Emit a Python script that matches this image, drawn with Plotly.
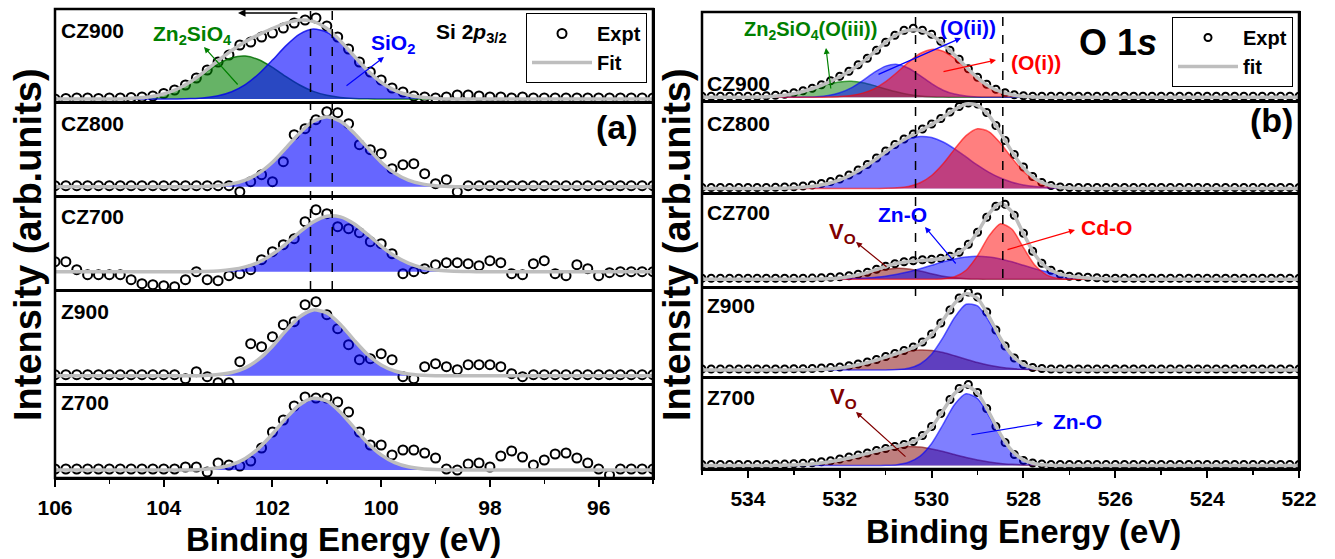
import numpy as np
import plotly.graph_objects as go

W, H = 1335, 559
FONT = "Liberation Sans, Arial, Helvetica, sans-serif"

# ---------------- energy grids (eV) ----------------
SI_E_EXPT = np.round(np.arange(106.0, 94.99, -0.2), 2)    # 56 points
SI_E_CURVE = np.round(np.arange(106.0, 94.99, -0.25), 2)  # 45 points
O_E_EXPT = np.round(np.arange(535.0, 521.99, -0.2), 2)    # 66 points
O_E_CURVE = np.round(np.arange(535.0, 521.99, -0.25), 2)  # 53 points

SAMPLES = ["CZ900", "CZ800", "CZ700", "Z900", "Z700"]

# ---------------- Si 2p (panel a) ----------------
SI_CZ900_EXPT = [0, 0.5, 1, 1, 0.5, 1, 1, 1.5, 2, 3,
                 5.5, 9, 14, 21, 29, 37, 44, 54, 57, 62,
                 66, 71, 76, 79, 81, 73, 62, 50, 37, 27,
                 19, 11, 7, 3, 2, 1, 2, 4, 4, 3,
                 2, 2, 1, 2, 1, 1, 1, 1, 1, 1,
                 1, 1, 1, 1, 1, 1]
SI_CZ900_ZN2SIO4 = [0] * 6 + [1, 2.2, 5, 9.9, 17.1, 26.1, 35, 41.2, 42.9, 39.2, 31.6, 22.4,
                              14, 7.6, 3.7, 1.6, 0.6, 0.2] + [0] * 21
SI_CZ900_SIO2 = [0] * 10 + [0.4, 1.3, 3.3, 7.3, 14.4, 25.2, 38.9, 53.4, 64.9, 70, 66.8, 56.5,
                            42.5, 28.2, 16.7, 8.7, 4, 1.7, 0.6] + [0] * 16
SI_CZ900_FIT = [0] * 6 + [1, 2.2, 5, 10, 17.5, 27.4, 38.3, 48.5, 57.3, 64.4, 70.5, 75.8, 78.9,
                          77.6, 70.5, 58.1, 43.1, 28.4, 16.7, 8.7, 4, 1.7, 0.6] + [0] * 16

SI_CZ800_EXPT = [1, 1, 1, 1, 1, 1, 1, 1, 1, 1,
                 1, 1, 1, 1, 1, 1, 1, -5, 5, 12,
                 5, 25, 52, 58, 67, 75, 74, 63, 42, 37,
                 33, 18, 22, 23, 13, 3, 7, -5, 1, 1,
                 1, 1, 1, 1, 1, 1, 1, 1, 1, 1,
                 1, 1, 1, 1, 1, 1]
SI_CZ800_SIO2 = [0] * 11 + [0.3, 1, 2.8, 6.6, 13.6, 24.5, 38.8, 53.8, 65.5, 70, 65.5, 53.8,
                            38.8, 24.5, 13.6, 6.6, 2.8, 1, 0.3] + [0] * 15

SI_CZ700_EXPT = [10, 10, 2, -3, -3, -3, -3, -8, -12, -13,
                 -14, -15, -8, 0, -8, -9, -4, -2, 2, 12,
                 20, 27, 33, 50, 62, 58, 45, 43, 39, 30,
                 28, 18, -2, 0, 3, 7, 9, 9, 8, 6,
                 11, 9, -2, -3, 8, 11, -2, -4, 7, 3,
                 -4, -1, 0, 0, 0, 0]
SI_CZ700_SIO2 = [0] * 11 + [0.3, 0.8, 2.1, 4.8, 9.6, 17.4, 27.9, 39.6, 49.8, 55.5, 54.8, 48,
                            37.3, 25.6, 15.6, 8.5, 4, 1.7, 0.6, 0.2] + [0] * 14

SI_Z900_EXPT = [1, 1, 1, 1, 1, 1, 1, 1, 1, 1,
                1, 1, -3, 4, -1, -7, -7, 14, 32, 29,
                39, 51, 54, 71, 74, 61, 47, 31, 16, 17,
                22, 16, -1, -3, 9, 12, 9, 6, 11, 11,
                11, 9, 2, -1, 1, 1, 1, 1, 1, 1,
                1, 1, 1, 1, 1, 1]
SI_Z900_SIO2 = [0] * 11 + [0.3, 1.1, 3.2, 7.9, 16.5, 29.5, 45.1, 58.9, 65.8, 62.8, 51.2, 35.6,
                           21.2, 10.8, 4.7, 1.7, 0.5] + [0] * 17

SI_Z700_EXPT = [1, 1, 1, 1, 1, 1, 1, 1, 1, 1,
                1, 1, 3, 3, -2, 7, 5, 4, 9, 22,
                38, 50, 64, 73, 72, 72, 68, 58, 38, 25,
                25, 15, 20, 20, 17, 12, 1, 0, 6, 7,
                3, 14, 19, 13, 5, 10, 16, 17, 12, 7,
                1, -5, 1, 1, 1, 1]
SI_Z700_SIO2 = [0] * 11 + [0.8, 2.2, 5.3, 11.6, 21.9, 36, 51.9, 65.3, 71.8, 69, 57.8, 42.4,
                           27.1, 15.2, 7.4, 3.2, 1.2, 0.4] + [0] * 16

# ---------------- O 1s (panel b) ----------------
O_CZ900_EXPT = [1, 1, 1, 1, 1, 1, 1, 1.5, 2, 3,
                4.5, 6.5, 9, 12.5, 16.5, 21, 26, 32.5, 39, 47,
                55, 62, 67, 69, 67, 63, 56, 47, 38, 28.5,
                20, 13, 8, 4.5, 2.5, 1.5] + [1] * 30
O_CZ900_OIII = [0, 0, 0, 0, 0.1, 0.3, 0.8, 1.9, 3.7, 6.4, 9.7, 13, 15.4, 16, 14.6, 11.7, 8.3,
                5.2, 2.8, 1.4, 0.6, 0.2] + [0] * 31
O_CZ900_OII = [0] * 9 + [0.2, 0.6, 1.8, 4.5, 9.4, 16.7, 24.9, 31.2, 32.9, 29.1, 21.7, 13.6, 7.1,
                         3.2, 1.2, 0.4, 0.1] + [0] * 27
O_CZ900_OI = [0] * 11 + [0.2, 0.7, 1.8, 4.2, 8.5, 15.6, 25, 35.2, 43.8, 47.9, 46.1, 39, 29.1,
                         19.1, 11, 5.6, 2.5, 1, 0.3] + [0] * 23
O_CZ900_FIT = [0] * 4 + [0.1, 0.3, 0.8, 1.9, 3.7, 6.6, 10.3, 15, 20.6, 27.2, 35.5, 45.1, 55.1,
                         63.1, 67.1, 66.9, 62.1, 53.4, 42.2, 30.3, 19.5, 11.1, 5.6, 2.5, 1, 0.3] + [0] * 23

O_CZ800_EXPT = [1] * 8 + [1.2, 1.5, 1.8, 2.5, 3.5, 5, 7, 9.5, 13.5, 18.5, 24, 30.5, 37.5, 44,
                          49.5, 54.5, 59.5, 64.5, 70, 76.5, 82, 85.5, 84.5, 76, 63, 48, 34, 21.5,
                          12, 6, 3, 1.5] + [1] * 26
O_CZ800_OII = [0] * 6 + [0.1, 0.3, 0.7, 1.4, 2.8, 5, 8.6, 13.8, 20.4, 28.2, 36.5, 44, 49.5, 52,
                         50.9, 46.5, 39.6, 31.6, 23.4, 16.2, 10.5, 6.3, 3.5, 1.9, 0.9, 0.4, 0.2] + [0] * 20
O_CZ800_OI = [0] * 16 + [0.2, 0.7, 2.1, 5.7, 13, 24.7, 39.4, 52.9, 59.8, 56.7, 45.3, 30.4, 17.1,
                         8.1, 3.2, 1.1, 0.3] + [0] * 20
O_CZ800_FIT = [0] * 6 + [0.1, 0.3, 0.7, 1.4, 2.8, 5, 8.6, 13.8, 20.4, 28.2, 36.7, 44.7, 51.6,
                         57.7, 63.9, 71.2, 79, 84.5, 83.2, 72.9, 55.8, 36.7, 20.6, 10, 4.1, 1.5, 0.5] + [0] * 20

O_CZ700_EXPT = [1] * 12 + [1.2, 1.5, 2, 2.5, 3.5, 5, 7, 10, 13, 15.5, 17.5, 18.5, 19.5, 20, 21,
                           23, 27, 35, 47, 62, 73, 75, 64, 46, 28, 16, 9, 5, 3, 2.5, 2, 1.5] + [1] * 22
O_CZ700_VO = [0] * 10 + [0.1, 0.4, 1.1, 2.4, 4.5, 7.2, 9.7, 11, 10.4, 8.3, 5.6, 3.1, 1.5, 0.6,
                         0.2] + [0] * 28
O_CZ700_ZNO = [0] * 12 + [0.2, 0.6, 1, 1.9, 3.1, 5, 7.5, 10.6, 14, 17.5, 20.4, 22.3, 23.1, 22.3,
                          20.4, 17.5, 14, 10.6, 7.5, 5, 3.1, 1.9, 1, 0.6, 0.2, 0.1] + [0] * 15
O_CZ700_CDO = [0] * 21 + [0.5, 2.5, 9.1, 23.7, 43.4, 55.6, 50, 31.6, 14, 4.4, 0.9, 0.1] + [0] * 20
O_CZ700_FIT = [0] * 10 + [0.2, 0.5, 1.3, 3, 5.5, 9.1, 12.8, 16, 17.9, 18.9, 19.6, 21.1, 24.4, 32,
                          47, 65.7, 76, 67.5, 45.6, 24.6, 11.9, 5.9, 3.2, 1.9, 1, 0.6, 0.2, 0.1] + [0] * 15

O_Z900_EXPT = [1] * 10 + [1.2, 1.3, 1.5, 2, 2.5, 3, 4.2, 6, 8, 10.5, 13.5, 16.5, 19.5, 23, 28,
                          36, 47, 60, 72, 78, 73, 58, 40, 24, 12, 5.5, 2.5, 1.5] + [1] * 28
O_Z900_VO = [0] * 8 + [0.1, 0.2, 0.5, 1.1, 2.1, 3.8, 6.2, 9.3, 12.8, 16.2, 18.8, 20, 19.5, 17.4,
                       14.2, 10.7, 7.4, 4.7, 2.7, 1.4, 0.7, 0.3, 0.1] + [0] * 22
O_Z900_ZNO = [0] * 17 + [0.4, 1.7, 6, 15.8, 32.6, 52.5, 65.7, 64.1, 48.7, 28.8, 13.3, 4.8, 1.3,
                         0.3] + [0] * 22
O_Z900_FIT = [0] * 8 + [0.1, 0.2, 0.5, 1.1, 2.1, 3.8, 6.2, 9.3, 12.8, 16.6, 20.5, 26, 35.3, 50,
                        66.7, 76.4, 71.5, 53.4, 31.5, 14.7, 5.5, 1.6, 0.4] + [0] * 22

O_Z700_EXPT = [1] * 7 + [1.1, 1.2, 1.4, 1.7, 2.2, 2.8, 3.7, 4.8, 6.5, 8.5, 10.5, 12.5, 15, 17, 19,
                         21, 24, 30, 39, 52, 66, 77, 81, 73, 57, 39, 23, 11, 5, 2.5, 1.5] + [1] * 28
O_Z700_VO = [0] * 6 + [0.1, 0.3, 0.6, 1.2, 2.1, 3.5, 5.5, 8, 10.9, 13.9, 16.5, 18.4, 19, 18.4,
                       16.5, 13.9, 10.9, 8, 5.5, 3.5, 2.1, 1.2, 0.6, 0.3, 0.1] + [0] * 22
O_Z700_ZNO = [0] * 16 + [0.2, 0.8, 3.2, 9.4, 22, 41.1, 61, 71.7, 66.9, 49.5, 29.1, 13.5, 5, 1.5,
                         0.3] + [0] * 22
O_Z700_FIT = [0] * 6 + [0.1, 0.3, 0.6, 1.2, 2.1, 3.5, 5.5, 8, 10.9, 13.9, 16.7, 19.2, 22.2, 27.8,
                        38.5, 55, 71.9, 79.7, 72.4, 53, 31.2, 14.7, 5.6, 1.8, 0.4] + [0] * 22

SI_REF_LINES = [101.3, 100.9]
O_REF_LINES = [530.35, 528.45]

SI_SETS = {
    "CZ900": (SI_CZ900_EXPT, SI_CZ900_FIT, [(SI_CZ900_ZN2SIO4, "green"), (SI_CZ900_SIO2, "blue")]),
    "CZ800": (SI_CZ800_EXPT, SI_CZ800_SIO2, [(SI_CZ800_SIO2, "blue")]),
    "CZ700": (SI_CZ700_EXPT, SI_CZ700_SIO2, [(SI_CZ700_SIO2, "blue")]),
    "Z900": (SI_Z900_EXPT, SI_Z900_SIO2, [(SI_Z900_SIO2, "blue")]),
    "Z700": (SI_Z700_EXPT, SI_Z700_SIO2, [(SI_Z700_SIO2, "blue")]),
}
O_SETS = {
    "CZ900": (O_CZ900_EXPT, O_CZ900_FIT, [(O_CZ900_OIII, "green"), (O_CZ900_OII, "blue"), (O_CZ900_OI, "red")]),
    "CZ800": (O_CZ800_EXPT, O_CZ800_FIT, [(O_CZ800_OII, "blue"), (O_CZ800_OI, "red")]),
    "CZ700": (O_CZ700_EXPT, O_CZ700_FIT, [(O_CZ700_VO, "brown"), (O_CZ700_ZNO, "blue"), (O_CZ700_CDO, "red")]),
    "Z900": (O_Z900_EXPT, O_Z900_FIT, [(O_Z900_VO, "brown"), (O_Z900_ZNO, "blue")]),
    "Z700": (O_Z700_EXPT, O_Z700_FIT, [(O_Z700_VO, "brown"), (O_Z700_ZNO, "blue")]),
}

SI_COL = {"green": ("rgba(0,128,0,0.6)", "rgba(0,110,0,0.85)"),
          "blue": ("rgba(0,0,255,0.6)", "rgba(0,0,235,0.8)")}
O_COL = {"green": ("rgba(0,128,0,0.5)", "rgba(0,128,0,0.7)"),
         "blue": ("rgba(0,0,255,0.5)", "rgba(0,0,255,0.6)"),
         "red": ("rgba(255,0,0,0.5)", "rgba(255,0,0,0.6)"),
         "brown": ("rgba(128,0,0,0.5)", "rgba(128,0,0,0.6)")}

# ---------------- layout geometry (pixels) ----------------
PANELS = [
    dict(xpx=(55, 653), rows=[(9, 102), (102, 196), (196, 290), (290, 384), (384, 478)],
         base=[99, 186.7, 271.7, 375.7, 470], xr=[106, 95], sets=SI_SETS, col=SI_COL,
         ee=SI_E_EXPT, ec=SI_E_CURVE, msize=9, legend="legend", fitname="<b>Fit</b>"),
    dict(xpx=(702, 1299), rows=[(12, 101), (101, 193), (193, 287), (287, 377), (377, 469)],
         base=[97.3, 188.5, 279.3, 370, 465.5], xr=[535, 522], sets=O_SETS, col=O_COL,
         ee=O_E_EXPT, ec=O_E_CURVE, msize=7, legend="legend2", fitname="<b>fit</b>"),
]


def fx(p):
    return p / W


def fy(p):
    return 1 - p / H


fig = go.Figure()
lay = {}
for side, P in enumerate(PANELS):
    for r, name in enumerate(SAMPLES):
        n = side * 5 + r + 1
        xa = "x" if n == 1 else f"x{n}"
        ya = "y" if n == 1 else f"y{n}"
        expt, fit, comps = P["sets"][name]
        fig.add_trace(go.Scatter(
            x=P["ee"], y=expt, mode="markers", xaxis=xa, yaxis=ya,
            marker=dict(symbol="circle-open", size=P["msize"], color="black", line=dict(width=2)),
            name="<b>Expt</b>", legend=P["legend"], showlegend=(r == 0), hoverinfo="skip"))
        for comp, cname in comps:
            fc, lc = P["col"][cname]
            fig.add_trace(go.Scatter(
                x=P["ec"], y=comp, mode="lines", xaxis=xa, yaxis=ya,
                line=dict(color=lc, width=1.5, shape="spline", smoothing=0.7),
                fill="tozeroy", fillcolor=fc, showlegend=False, hoverinfo="skip"))
        fig.add_trace(go.Scatter(
            x=P["ec"], y=fit, mode="lines", xaxis=xa, yaxis=ya,
            line=dict(color="rgb(190,190,190)", width=3.5, shape="spline", smoothing=0.7),
            name=P["fitname"], legend=P["legend"], showlegend=(r == 0), hoverinfo="skip"))

        top, bot = P["rows"][r]
        base = P["base"][r]
        bottom = (r == 4)
        xkey = "xaxis" if n == 1 else f"xaxis{n}"
        ykey = "yaxis" if n == 1 else f"yaxis{n}"
        xd = dict(domain=[fx(P["xpx"][0]), fx(P["xpx"][1])], range=P["xr"], anchor=ya,
                  showline=True, mirror=True, linecolor="black", linewidth=1.5, automargin=False,
                  showgrid=False, zeroline=False, showticklabels=bottom)
        if bottom:
            xd.update(ticks="outside", ticklen=7, tickwidth=2, tickcolor="black", dtick=2, tick0=0,
                      tickfont=dict(family=FONT, size=21, color="black", weight="bold"),
                      ticklabelstandoff=3,
                      minor=dict(dtick=1, ticks="outside", ticklen=4, tickwidth=1.5, tickcolor="black"))
        else:
            xd.update(ticks="")
        lay[xkey] = xd
        lay[ykey] = dict(domain=[fy(bot), fy(top)], range=[-(bot - base), base - top], anchor=xa,
                         showline=True, mirror=True, linecolor="black", linewidth=1.5, automargin=False,
                         showgrid=False, zeroline=False, showticklabels=False, ticks="")

shapes = []
for P in PANELS:
    x0, x1 = P["xpx"]
    y0, y1 = P["rows"][0][0], P["rows"][-1][1]
    shapes.append(dict(type="rect", xref="paper", yref="paper", x0=fx(x0), x1=fx(x1),
                       y0=fy(y1), y1=fy(y0), line=dict(color="black", width=2.5)))
for e in SI_REF_LINES:
    shapes.append(dict(type="line", xref="x", yref="paper", x0=e, x1=e, y0=fy(290), y1=fy(9),
                       line=dict(color="black", width=1.5, dash="dash")))
for e in O_REF_LINES:
    shapes.append(dict(type="line", xref="x6", yref="paper", x0=e, x1=e, y0=fy(296), y1=fy(12),
                       line=dict(color="black", width=1.5, dash="dash")))


def txt(s, x, y, size, color="black", xanchor="center", angle=0):
    return dict(text=s, x=fx(x), y=fy(y), xref="paper", yref="paper", showarrow=False,
                xanchor=xanchor, yanchor="middle", textangle=angle,
                font=dict(family=FONT, size=size, color=color))


def arrow(tail, head, color, width=1.2):
    return dict(text="", x=fx(head[0]), y=fy(head[1]), xref="paper", yref="paper",
                ax=tail[0] - head[0], ay=tail[1] - head[1], axref="pixel", ayref="pixel",
                showarrow=True, arrowhead=2, arrowsize=1, arrowwidth=width, arrowcolor=color)


GREEN, BLUE, RED, BROWN = "rgb(0,128,0)", "rgb(0,0,255)", "rgb(255,0,0)", "rgb(128,0,0)"
ann = []
# sample labels
for name, y in zip(SAMPLES, [30, 123, 216, 311, 402]):
    ann.append(txt(f"<b>{name}</b>", 59, y, 21, xanchor="left"))
for name, y in zip(SAMPLES, [84, 123, 213, 305, 397]):
    ann.append(txt(f"<b>{name}</b>", 705, y, 21, xanchor="left"))

# panel (a) annotations
ann += [
    txt("<b>Zn<sub>2</sub>SiO<sub>4</sub></b>", 192, 35, 21, GREEN),
    txt("<b>SiO<sub>2</sub></b>", 393, 44, 21, BLUE),
    txt("<b>Si 2<i>p</i><sub>3/2</sub></b>", 471, 33, 21),
    txt("<b>(a)</b>", 640, 127, 34, xanchor="right"),
    arrow((299, 13), (238, 13), "black", 1.5),
    arrow((239, 86), (204, 47), GREEN),
    arrow((345, 87), (384, 57), BLUE),
]
# panel (b) annotations
ann += [
    txt("<b>Zn<sub>2</sub>SiO<sub>4</sub>(O(iii))</b>", 810, 30, 20, GREEN),
    txt("<b>(O(ii))</b>", 968, 28, 21, BLUE),
    txt("<b>(O(i))</b>", 1036, 62, 21, RED),
    txt("<b>O 1<i>s</i></b>", 1118, 42, 36),
    txt("<b>(b)</b>", 1295, 120, 34, xanchor="right"),
    arrow((831, 90), (826, 48), GREEN),
    arrow((877, 75), (961, 38), BLUE),
    arrow((942, 72), (996, 60), RED),
    txt("<b>V<sub>O</sub></b>", 842, 233, 22, BROWN),
    txt("<b>Zn-O</b>", 902, 215, 21, BLUE),
    txt("<b>Cd-O</b>", 1106, 227, 21, RED),
    arrow((888, 268), (856, 242), BROWN),
    arrow((957, 265), (925, 227), BLUE),
    arrow((1006, 250), (1075, 230), RED),
    txt("<b>V<sub>O</sub></b>", 843, 398, 22, BROWN),
    txt("<b>Zn-O</b>", 1077, 421, 21, BLUE),
    arrow((907, 458), (856, 412), BROWN),
    arrow((970, 435), (1043, 423), BLUE),
]
# axis titles
ann += [
    txt("<b>Binding Energy (eV)</b>", 343, 539, 33),
    txt("<b>Binding Energy (eV)</b>", 1023, 531, 33),
    txt("<b>Intensity (arb.units)</b>", 28, 245, 38, angle=-90),
    txt("<b>Intensity (arb.units)</b>", 677, 245, 38, angle=-90),
]

legend_style = dict(bordercolor="black", borderwidth=1, bgcolor="white",
                    font=dict(family=FONT, size=20, color="black"),
                    itemwidth=60, tracegroupgap=0, yanchor="top", xanchor="right")

fig.update_layout(
    width=W, height=H, autosize=False,
    margin=dict(l=0, r=0, t=0, b=0, pad=0, autoexpand=False),
    paper_bgcolor="white", plot_bgcolor="white",
    font=dict(family=FONT, color="black"),
    hovermode=False,
    shapes=shapes, annotations=ann,
    legend=dict(x=fx(647), y=fy(13), **legend_style),
    legend2=dict(x=fx(1293), y=fy(17), **legend_style),
    **lay,
)

fig.write_html(
    "out.html",
    config={"displayModeBar": False, "staticPlot": True},
    post_script="document.body.style.margin='0';document.body.style.padding='0';"
                "document.body.style.overflow='hidden';",
)
